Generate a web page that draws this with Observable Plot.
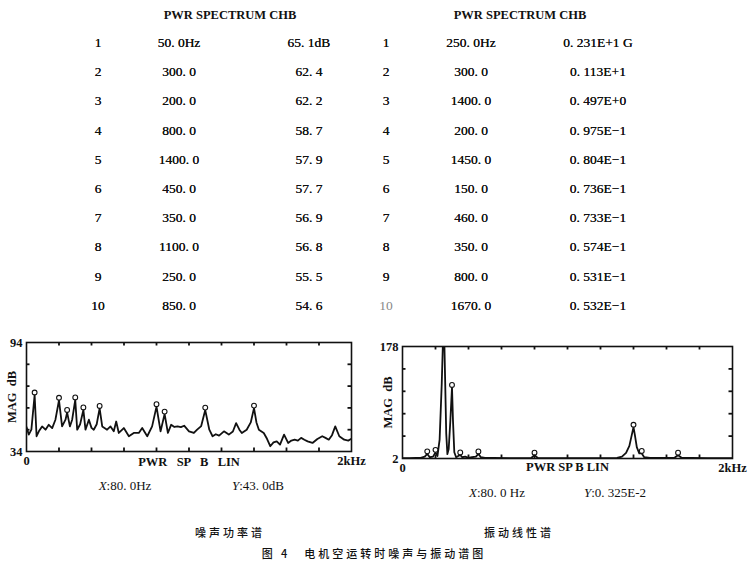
<!DOCTYPE html>
<html><head><meta charset="utf-8">
<script src="https://cdn.jsdelivr.net/npm/d3@7"></script>
<script src="https://cdn.jsdelivr.net/npm/@observablehq/plot@0.6"></script>
<style>
body{margin:0;background:#fff;}
#page{position:relative;width:754px;height:576px;overflow:hidden;font-family:"Liberation Serif",serif;color:#111;}
.t{position:absolute;white-space:pre;transform:translate(-50%,-50%);line-height:1;}
.plot{position:absolute;}
</style></head><body><div id="page"></div>
<script>
// ---- table data ----
const tableTitle = "PWR SPECTRUM CHB";
const rankLabels = ["1","2","3","4","5","6","7","8","9","10"];
const noiseFreqLabels = ["50. 0Hz","300. 0","200. 0","800. 0","1400. 0","450. 0","350. 0","1100. 0","250. 0","850. 0"];
const noiseDbLabels = ["65. 1dB","62. 4","62. 2","58. 7","57. 9","57. 7","56. 9","56. 8","55. 5","54. 6"];
const vibFreqLabels = ["250. 0Hz","300. 0","1400. 0","200. 0","1450. 0","150. 0","460. 0","350. 0","800. 0","1670. 0"];
const vibMagLabels = ["0. 231E+1 G","0. 113E+1","0. 497E+0","0. 975E\u22121","0. 804E\u22121","0. 736E\u22121","0. 733E\u22121","0. 574E\u22121","0. 531E\u22121","0. 532E\u22121"];

// ---- peak data (from tables) ----
const noisePeakHz = [50,300,200,800,1400,450,350,1100,250,850];
const noisePeakDb = [65.1,62.4,62.2,58.7,57.9,57.7,56.9,56.8,55.5,54.6];
const vibPeakHz = [250,300,1400,200,1450,150,460,350,800,1670];
const vibPeakG = [2.31,1.13,0.497,0.0975,0.0804,0.0736,0.0733,0.0574,0.0531,0.0532];

// ---- noise power spectrum trace ----
const noiseHz = [0,14,30,50,62,76,96,117,137,158,178,200,219,240,250,267,281,300,312,330,350,363,384,400,414,432,450,466,496,517,537,552,568,599,630,660,691,712,743,773,800,825,850,870,890,910,930,950,970,1000,1030,1050,1075,1100,1125,1145,1165,1185,1215,1245,1270,1290,1310,1325,1355,1380,1400,1415,1430,1460,1480,1500,1520,1540,1560,1585,1610,1630,1650,1670,1690,1710,1730,1760,1790,1820,1840,1860,1880,1900,1925,1955,1980,2000];
const noiseDb = [47.5,43.3,46,65.1,42.4,45.1,47.8,46,48.7,46.9,51.5,62.2,47.8,51.5,55.5,47.8,51.5,62.4,46,49,56.9,46,51.5,47,46,49,57.7,47.8,46,47.8,45.1,50.5,44.2,46.9,42.4,44.2,44.2,46.9,42.4,47.8,58.7,45.1,54.6,44.2,48.7,47.5,47.8,47.4,48.2,45.1,44.2,46,48,56.8,46,42.4,43.5,42.7,45.1,43.3,45,49.6,46,44.2,46,50,57.9,50,46,44.2,41,36.9,39,39.6,37.8,43.3,38.7,40,40.5,40,41.5,40.5,39.6,38.7,40.9,42.4,41.5,40.5,43,47.8,42.4,40.5,40,41];

// ---- vibration linear spectrum trace ----
const vibHz = [0,40,80,110,135,150,165,185,200,212,225,238,250,258,265,272,280,290,300,306,314,325,338,350,362,380,400,420,445,460,475,500,550,650,780,800,820,1000,1200,1300,1330,1355,1375,1390,1400,1408,1420,1435,1450,1465,1500,1600,1650,1670,1690,1750,1850,2000];
const vibG = [0.004,0.006,0.008,0.01,0.03,0.0736,0.02,0.03,0.0975,0.04,0.3,1.2,2.31,1.3,0.4,0.07,0.15,0.6,1.13,0.6,0.1,0.02,0.04,0.0574,0.02,0.03,0.01,0.02,0.03,0.0733,0.02,0.01,0.008,0.006,0.008,0.0531,0.008,0.006,0.006,0.01,0.03,0.09,0.2,0.38,0.497,0.38,0.18,0.08,0.0804,0.02,0.01,0.008,0.015,0.0532,0.015,0.01,0.006,0.004];

// ---- axis texts ----
const noiseYLabels = [34, 94];
const vibYLabelText = ["2", "178"];
const xEndLabels = ["0", "2kHz"];
const modeLabel1 = "PWR   SP   B   LIN";
const modeLabel2 = "PWR SP B LIN";
const yAxisTitle = "MAG  dB";
const readout1 = [["X", ":80. 0Hz"], ["Y", ":43. 0dB"]];
const readout2 = [["X", ":80. 0 Hz"], ["Y", ":0. 325E-2"]];
const caption1 = "噪声功率谱";
const caption2 = "振动线性谱";
const figTitle = "图 4　电机空运转时噪声与振动谱图";

const page = document.getElementById("page");
const ink = "#111";
function put(txt, x, y, style) {
  const d = document.createElement("div");
  d.className = "t";
  d.textContent = txt;
  d.style.left = x + "px"; d.style.top = y + "px";
  Object.assign(d.style, style || {});
  page.appendChild(d);
  return d;
}
function putReadout(parts, x, y) {
  const d = put("", x, y, {fontSize: "13px"});
  const i = document.createElement("i"); i.textContent = parts[0];
  d.appendChild(i);
  d.appendChild(document.createTextNode(parts[1]));
}

// tables
const rowY = i => 43 + i * 29.2;
const cellStyle = {fontSize: "13.5px", fontWeight: "500", textShadow: "0 0 0.4px #111"};
const titleStyle = {fontSize: "12.5px", fontWeight: "bold"};
put(tableTitle, 230, 15, titleStyle);
put(tableTitle, 520, 15, titleStyle);
rankLabels.forEach((r, i) => {
  put(r, 98, rowY(i), cellStyle);
  put(noiseFreqLabels[i], 179, rowY(i), cellStyle);
  put(noiseDbLabels[i], 309, rowY(i), cellStyle);
  put(r, 386, rowY(i), Object.assign({}, cellStyle, i === 9 ? {color: "#888", textShadow: "none"} : {}));
  put(vibFreqLabels[i], 471, rowY(i), cellStyle);
  put(vibMagLabels[i], 598, rowY(i), cellStyle);
});

// readouts & captions
putReadout(readout1[0], 125, 485);
putReadout(readout1[1], 258, 485);
putReadout(readout2[0], 497, 492);
putReadout(readout2[1], 615, 492);
const cjk = {fontFamily: "'Noto Sans CJK SC'", fontSize: "11px", letterSpacing: "3px", fontWeight: "500"};
put(caption1, 230, 532, cjk);
put(caption2, 519, 532, cjk);
put(figTitle, 374, 553, cjk);

const font = {fontFamily: "Liberation Serif", fontWeight: "bold", fontSize: "12.5px", color: ink, background: "transparent", overflow: "visible"};

function panel({width, height, mL, mR, mT, mB, yDomain, lineHz, lineVal, peakHz, peakVal, yTicks, yTickFmt, mode, modeDy}) {
  const fw = width - mL - mR, fh = height - mT - mB;
  const xDivs = d3.range(1, 10).map(i => i * 200);
  const yDivs = d3.range(1, 5).map(i => yDomain[0] + i * (yDomain[1] - yDomain[0]) / 5);
  const line = lineHz.map((f, i) => ({f, v: lineVal[i]}));
  const peaks = peakHz.map((f, i) => ({f, v: peakVal[i]})).filter(d => d.v <= yDomain[1]);
  return Plot.plot({
    width, height, marginLeft: mL, marginRight: mR, marginTop: mT, marginBottom: mB,
    x: {domain: [0, 2000]}, y: {domain: yDomain},
    style: font,
    marks: [
      Plot.line(line, {x: "f", y: "v", stroke: ink, strokeWidth: 1.8, strokeLinejoin: "round", clip: true}),
      Plot.dot(peaks, {x: "f", y: "v", r: 2.4, stroke: ink, strokeWidth: 1.1, fill: "white", dy: -2.5}),
      Plot.frame({stroke: ink, strokeWidth: 1.6}),
      Plot.tickX(xDivs, {x: d => d, insetTop: fh - 3.5, stroke: ink, strokeWidth: 1.8}),
      Plot.tickX(xDivs, {x: d => d, insetBottom: fh - 3.5, stroke: ink, strokeWidth: 1.8}),
      Plot.tickY(yDivs, {y: d => d, insetRight: fw - 3.5, stroke: ink, strokeWidth: 1.8}),
      Plot.tickY(yDivs, {y: d => d, insetLeft: fw - 3.5, stroke: ink, strokeWidth: 1.8}),
      Plot.axisY(yTicks, {tickSize: 0, tickPadding: 4, tickFormat: yTickFmt, label: null, fontWeight: "bold"}),
      Plot.axisX([0, 2000], {tickSize: 0, tickPadding: 5, tickFormat: (d, i) => xEndLabels[i], label: null, fontWeight: "bold"}),
      Plot.text([mode], {frameAnchor: "bottom", dy: modeDy, fontWeight: "bold", fontSize: 12.5, fill: ink}),
      Plot.text([yAxisTitle], {frameAnchor: "left", rotate: -90, textAnchor: "middle", dx: -15, fontWeight: "bold", fontSize: 12.5, fill: ink})
    ]
  });
}

const p1 = panel({width: 375, height: 150, mL: 26, mR: 24, mT: 12, mB: 29, yDomain: [34, 94],
  lineHz: noiseHz, lineVal: noiseDb, peakHz: noisePeakHz, peakVal: noisePeakDb,
  yTicks: noiseYLabels, yTickFmt: d => String(d), mode: modeLabel1, modeDy: 14});
p1.classList.add("plot"); p1.style.left = "0px"; p1.style.top = "330px";
page.appendChild(p1);

const p2 = panel({width: 379, height: 150, mL: 27, mR: 22, mT: 16, mB: 22, yDomain: [0, 1.78],
  lineHz: vibHz, lineVal: vibG, peakHz: vibPeakHz, peakVal: vibPeakG,
  yTicks: [0, 1.78], yTickFmt: (d, i) => vibYLabelText[i], mode: modeLabel2, modeDy: 12});
p2.classList.add("plot"); p2.style.left = "375px"; p2.style.top = "330px";
page.appendChild(p2);
</script></body></html>
